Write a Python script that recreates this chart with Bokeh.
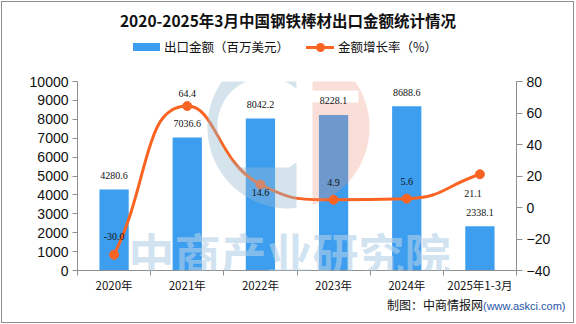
import math
from bokeh.plotting import figure
from bokeh.layouts import column
from bokeh.models import (Range1d, LinearAxis, FixedTicker, ColumnDataSource, LabelSet,
                          Label, PolyAnnotation, Div)
from bokeh.embed import file_html
from bokeh.resources import INLINE

# ---------------- data ----------------
categories = ["2020年", "2021年", "2022年", "2023年", "2024年", "2025年1-3月"]
export_value = [4280.6, 7036.6, 8042.2, 8228.1, 8688.6, 2338.1]   # 百万美元
growth_rate = [-30.0, 64.4, 14.6, 4.9, 5.6, 21.1]                 # %
left_ticks = [0, 1000, 2000, 3000, 4000, 5000, 6000, 7000, 8000, 9000, 10000]
right_ticks = [-40, -20, 0, 20, 40, 60, 80]

title_text = "2020-2025年3月中国钢铁棒材出口金额统计情况"
legend_labels = ["出口金额（百万美元）", "金额增长率（%）"]
watermark_text = "中商产业研究院"
source_text = "制图：中商情报网"
source_url = "(www.askci.com)"

# label placement style (pixels)
growth_label_dy = [18, 13, -8, 17, 17, -19]
growth_label_dx = [0, 0, 0, 0, 0, -7]

# ---------------- style ----------------
BAR = "#3d9ef0"
LINE = "#fa6423"
AXIS = "#8f8f8f"
FONT = "Noto Sans CJK SC"

W = 571
OFF = 2                       # page offset of the content (margin + border)
H_HEAD, H_FIG, H_FOOT = 69, 227, 24
FL, FR, FT, FB = 77, 516, 81, 270   # frame edges in page pixels
FIG_TOP = OFF + H_HEAD

n = len(categories)
xs = [i + 0.5 for i in range(n)]
Y0, Y1 = left_ticks[0], left_ticks[-1]
R0, R1 = right_ticks[0], right_ticks[-1]


def dx(px):
    return (px - FL) / (FR - FL) * n


def dy(py):
    return Y0 + (FB - py) / (FB - FT) * (Y1 - Y0)


p = figure(width=W, height=H_FIG, x_range=Range1d(0, n), y_range=Range1d(Y0, Y1),
           output_backend="svg", toolbar_location=None,
           min_border_left=FL - OFF, min_border_right=OFF + W - FR,
           min_border_top=FT - FIG_TOP, min_border_bottom=FIG_TOP + H_FIG - FB,
           background_fill_color="white", border_fill_color="white",
           outline_line_color=None, margin=0)
p.extra_y_ranges = {"rate": Range1d(R0, R1)}
p.xgrid.visible = False
p.ygrid.visible = False

# x axis
xa = p.xaxis[0]
xa.ticker = FixedTicker(ticks=xs, minor_ticks=list(range(n + 1)))
xa.major_label_overrides = {x: c for x, c in zip(xs, categories)}
xa.major_tick_line_color = None
xa.major_tick_out = 0
xa.major_tick_in = 0
xa.minor_tick_line_color = AXIS
xa.minor_tick_out = 5
xa.minor_tick_in = 0
xa.axis_line_color = AXIS
xa.major_label_text_font = FONT
xa.major_label_text_font_size = "11.5px"
xa.major_label_text_color = "#111111"
xa.major_label_standoff = 1

# left axis
ya = p.yaxis[0]
ya.ticker = FixedTicker(ticks=left_ticks)
ya.axis_line_color = AXIS
ya.major_tick_line_color = AXIS
ya.major_tick_out = 5
ya.major_tick_in = 0
ya.minor_tick_line_color = None
ya.major_label_text_font = "Liberation Sans"
ya.major_label_text_font_size = "14px"
ya.major_label_text_color = "#111111"
ya.major_label_standoff = 4

# right axis
ra = LinearAxis(y_range_name="rate", ticker=FixedTicker(ticks=right_ticks))
ra.axis_line_color = AXIS
ra.major_tick_line_color = AXIS
ra.major_tick_out = 6
ra.major_tick_in = 0
ra.minor_tick_line_color = None
ra.major_label_text_font = "Liberation Sans"
ra.major_label_text_font_size = "14px"
ra.major_label_text_color = "#111111"
ra.major_label_standoff = 4
p.add_layout(ra, "right")

# bars
bars = p.vbar(x=xs, top=export_value, width=0.4, fill_color=BAR, line_color=None)

# smooth line (echarts-like clamped bezier), computed in pixel-proportional space
sxp = (FR - FL) / n
syp = (FB - FT) / (R1 - R0)
P = [(x * sxp, g * syp) for x, g in zip(xs, growth_rate)]
S = 0.5
cp_next, cp_prev = [], []
for i, (x, y) in enumerate(P):
    xp, yp = P[i - 1] if i > 0 else (x, y)
    xn, yn = P[i + 1] if i < len(P) - 1 else (x, y)
    d0 = math.hypot(x - xp, y - yp)
    d1 = math.hypot(xn - x, yn - y)
    if i == 0 or i == len(P) - 1:
        cp_next.append((x + (xn - x) * S, y + (yn - y) * S))
        cp_prev.append((x - (x - xp) * S, y - (y - yp) * S))
        continue
    vx, vy = xn - xp, yn - yp
    r = d1 / (d0 + d1)
    ncx, ncy = x + vx * S * r, y + vy * S * r
    ncx = min(max(ncx, min(xn, x)), max(xn, x))
    ncy = min(max(ncy, min(yn, y)), max(yn, y))
    pcx, pcy = x - (ncx - x) * d0 / d1, y - (ncy - y) * d0 / d1
    pcx = min(max(pcx, min(xp, x)), max(xp, x))
    pcy = min(max(pcy, min(yp, y)), max(yp, y))
    ncx, ncy = x + (x - pcx) * d1 / d0, y + (y - pcy) * d1 / d0
    cp_next.append((ncx, ncy))
    cp_prev.append((pcx, pcy))

seg = dict(x0=[], y0=[], x1=[], y1=[], cx0=[], cy0=[], cx1=[], cy1=[])
for i in range(len(P) - 1):
    seg["x0"].append(P[i][0] / sxp); seg["y0"].append(P[i][1] / syp)
    seg["x1"].append(P[i + 1][0] / sxp); seg["y1"].append(P[i + 1][1] / syp)
    seg["cx0"].append(cp_next[i][0] / sxp); seg["cy0"].append(cp_next[i][1] / syp)
    seg["cx1"].append(cp_prev[i + 1][0] / sxp); seg["cy1"].append(cp_prev[i + 1][1] / syp)
curve = p.bezier(source=ColumnDataSource(seg), x0="x0", y0="y0", x1="x1", y1="y1",
                 cx0="cx0", cy0="cy0", cx1="cx1", cy1="cy1",
                 line_color=LINE, line_width=3, y_range_name="rate")
dots = p.scatter(x=xs, y=growth_rate, size=9, marker="circle", fill_color=LINE,
                 line_color=LINE, y_range_name="rate")

# watermark logo (light, translucent)
cx, cy, R = 288, 127, 81
blue = []
for k in range(0, 181):
    a = math.radians(90 + k)
    blue.append((cx + R * math.cos(a), cy - R * math.sin(a)))
icx, icy, ir = 265, 125, 48
blue.append((296, cy + math.sqrt(R * R - (296 - cx) ** 2)))
blue.append((296, 167))
for k in range(0, 361):
    a = math.radians(-20 - k)
    px_, py_ = icx + ir * math.cos(a), icy - ir * math.sin(a)
    if px_ <= 296:
        blue.append((px_, min(py_, 167)))
blue.append((296, 88))
blue.append((296, cy - math.sqrt(R * R - (296 - cx) ** 2)))
p.add_layout(PolyAnnotation(xs=[dx(a) for a, b in blue], ys=[dy(b) for a, b in blue],
                            fill_color="#96b9d2", fill_alpha=0.4, line_alpha=0))

orange = []
top_y = cy - math.sqrt(R * R - (312 - cx) ** 2)
bot_y = cy + math.sqrt(R * R - (312 - cx) ** 2)
a_top = math.degrees(math.atan2(cy - top_y, 312 - cx))
a_bot = math.degrees(math.atan2(cy - bot_y, 312 - cx))
steps = 120
for k in range(steps + 1):
    a = math.radians(a_top + (a_bot - a_top) * k / steps)
    orange.append((cx + R * math.cos(a), cy - R * math.sin(a)))
orange += [(312, 102), (358, 102), (358, 90), (312, 90)]
p.add_layout(PolyAnnotation(xs=[dx(a) for a, b in orange], ys=[dy(b) for a, b in orange],
                            fill_color="#eb8c6e", fill_alpha=0.28, line_alpha=0))

p.add_layout(Label(x=dx(289), y=dy(251), text=watermark_text, text_align="center",
                   text_baseline="middle", text_font=FONT, text_font_style="bold",
                   text_font_size="46px", text_color="#b3d1e8", text_alpha=0.6))

# value labels
bar_src = ColumnDataSource(dict(x=xs, y=export_value, t=[f"{v:.1f}" for v in export_value]))
p.add_layout(LabelSet(x="x", y="y", text="t", source=bar_src, y_offset=14,
                      text_align="center", text_baseline="middle",
                      text_font="DejaVu Sans Mono", text_font_size="10px", text_color="#111111"))
rate_src = ColumnDataSource(dict(x=xs, y=growth_rate, t=[f"{v:.1f}" for v in growth_rate],
                                 dy=growth_label_dy, dx=growth_label_dx))
p.add_layout(LabelSet(x="x", y="y", text="t", source=rate_src, y_offset="dy", x_offset="dx",
                      y_range_name="rate", text_align="center", text_baseline="middle",
                      text_font="DejaVu Sans Mono", text_font_size="10px", text_color="#111111"))

# ---------------- header (title + legend) ----------------
def hx(px):
    return px - OFF


def hy(py):
    return py - OFF


LEG_Y = 47
header_html = (
    f'<div style="position:relative;width:{W}px;height:{H_HEAD}px;overflow:hidden;">'
    f'<div style="position:absolute;left:{hx(288) - 200}px;width:400px;top:{hy(20) - 11}px;'
    f'height:22px;line-height:22px;text-align:center;white-space:nowrap;'
    f'font-family:\'{FONT}\';font-weight:bold;font-size:15.5px;color:#111111;">{title_text}</div>'
    f'<div style="position:absolute;left:{hx(133)}px;top:{hy(LEG_Y) - 4}px;width:27px;height:8px;'
    f'background:{BAR};"></div>'
    f'<div style="position:absolute;left:{hx(164)}px;top:{hy(LEG_Y) - 9}px;height:18px;line-height:18px;'
    f'white-space:nowrap;font-family:\'{FONT}\';font-size:12.5px;color:#111111;">{legend_labels[0]}</div>'
    f'<div style="position:absolute;left:{hx(306)}px;top:{hy(LEG_Y) - 1.5}px;width:28px;height:3px;'
    f'background:{LINE};"></div>'
    f'<div style="position:absolute;left:{hx(320) - 4.5}px;top:{hy(LEG_Y) - 4.5}px;width:9px;height:9px;'
    f'border-radius:50%;background:{LINE};"></div>'
    f'<div style="position:absolute;left:{hx(338)}px;top:{hy(LEG_Y) - 9}px;height:18px;line-height:18px;'
    f'white-space:nowrap;font-family:\'{FONT}\';font-size:12.5px;color:#111111;">{legend_labels[1]}</div>'
    f'</div>'
)
header = Div(text=header_html, width=W, height=H_HEAD, margin=0,
             styles={"background": "white", "padding": "0"})

# footer: flowing text, pushed right by padding
FOOT_LEFT = 387
footer_html = (
    f'<div style="white-space:nowrap;line-height:14px;padding-left:{FOOT_LEFT - OFF}px;">'
    f'<span style="font-family:\'{FONT}\';font-size:12px;color:#111111;">{source_text}</span>'
    f'<span style="font-family:\'Liberation Sans\';font-size:11px;color:#1f55a8;">{source_url}</span>'
    f'</div>'
)
footer = Div(text=footer_html, width=W, height=H_FOOT, margin=0,
             styles={"background": "white", "padding": "0"})

layout = column(header, p, footer, spacing=0, margin=0,
                styles={"border": "1px solid #8f8f8f", "margin": "1px", "background": "white"})

open("out.html", "w").write(file_html(layout, INLINE))
